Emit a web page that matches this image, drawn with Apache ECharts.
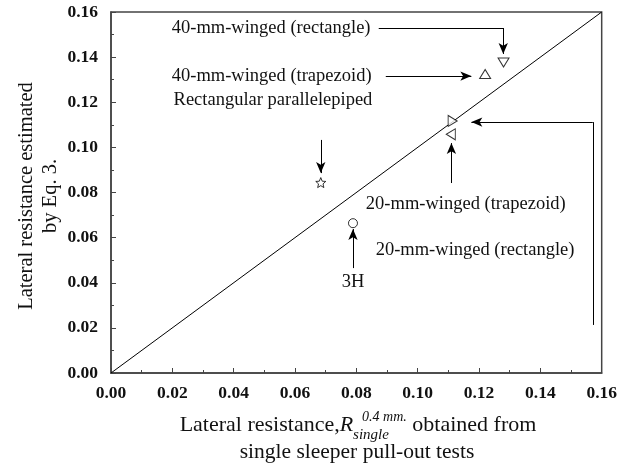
<!DOCTYPE html>
<html><head><meta charset="utf-8">
<script src="https://cdn.jsdelivr.net/npm/echarts@6/dist/echarts.min.js"></script>
<style>html,body{margin:0;padding:0;background:#fff}#c{width:620px;height:468px}</style>
</head><body><div id="c"></div>
<script>
// ---- data ----
const axisMin = 0, axisMax = 0.16, axisStep = 0.02;
const rect40 = [[0.128, 0.1376]];
const trap40 = [[0.122, 0.1325]];
const rect20 = [[0.1114, 0.1117]];
const trap20 = [[0.1108, 0.1058]];
const parallelepiped = [[0.0684, 0.0844]];
const h3 = [[0.0789, 0.0664]];
const equality = [[0, 0], [0.16, 0.16]];
// annotation labels: [text, x, y, align]
const labelTexts = [
  ['40-mm-winged (rectangle)', 0.0198, 0.1529, 'left'],
  ['40-mm-winged (trapezoid)', 0.0198, 0.1316, 'left'],
  ['Rectangular parallelepiped', 0.0204, 0.1210, 'left'],
  ['20-mm-winged (trapezoid)', 0.0831, 0.0749, 'left'],
  ['20-mm-winged (rectangle)', 0.0863, 0.0545, 'left'],
  ['3H', 0.0789, 0.0403, 'center']
];
// connector segments (no head) and arrows (head at end), in data units
const plainSegments = [
  [[0.0873, 0.1529], [0.1279, 0.1529]],
  [[0.1571, 0.0213], [0.1571, 0.1112]]
];
const arrowSegments = [
  [[0.1279, 0.1529], [0.1279, 0.1414]],
  [[0.0896, 0.1316], [0.1175, 0.1316]],
  [[0.0684, 0.1033], [0.0684, 0.0886]],
  [[0.1110, 0.0842], [0.1110, 0.1019]],
  [[0.1571, 0.1112], [0.1175, 0.1112]],
  [[0.0789, 0.0465], [0.0789, 0.0638]]
];

const FONT = 'Liberation Serif';
const chart = echarts.init(document.getElementById('c'), null, {renderer: 'canvas'});
const hollow = {color: '#fff', borderColor: '#000', borderWidth: 1};
const starPath = 'path://M12,2 L14.9,8.9 L22,9.3 L16.5,14 L18.2,21 L12,17.3 L5.8,21 L7.5,14 L2,9.3 L9.1,8.9 Z';

function axis() {
  return {
    type: 'value', min: axisMin, max: axisMax, interval: axisStep,
    axisLine: {show: true, lineStyle: {color: '#444', width: 1.5}},
    axisTick: {show: true, inside: true, length: 5, lineStyle: {color: '#444', width: 1}},
    minorTick: {show: true, splitNumber: 2, length: 3, lineStyle: {color: '#444', width: 1}},
    splitLine: {show: false},
    axisLabel: {fontFamily: FONT, fontWeight: 'bold', fontSize: 17.5, color: '#111',
      formatter: v => v.toFixed(2)}
  };
}
const xA = axis(); xA.axisLabel.margin = 11;
const yA = axis(); yA.axisLabel.margin = 13;
const mkLines = arrowSegments.map(s => [{coord: s[0]}, {coord: s[1]}]);
const plainLines = plainSegments.map(s => [{coord: s[0]}, {coord: s[1]}]);

chart.setOption({
  animation: false,
  grid: {left: 111, right: 16, top: 12, bottom: 95, show: true, borderColor: '#444', borderWidth: 1.5},
  xAxis: xA, yAxis: yA,
  series: [
    {type: 'line', data: equality, symbol: 'none', lineStyle: {color: '#000', width: 1}, z: 1,
     markLine: {silent: true, symbol: ['none', 'arrow'], symbolSize: [7, 11], label: {show: false},
       lineStyle: {color: '#000', width: 1, type: 'solid'}, data: mkLines}},
    {type: 'line', data: [], markLine: {silent: true, symbol: ['none', 'none'], label: {show: false},
       lineStyle: {color: '#000', width: 1, type: 'solid'}, data: plainLines}},
    {type: 'scatter', data: rect40, symbol: 'triangle', symbolRotate: 180, symbolSize: [11, 9], itemStyle: hollow, z: 5},
    {type: 'scatter', data: trap40, symbol: 'triangle', symbolSize: [11, 9], itemStyle: hollow, z: 5},
    {type: 'scatter', data: rect20, symbol: 'triangle', symbolRotate: -90, symbolSize: [11, 9], itemStyle: hollow, z: 5},
    {type: 'scatter', data: trap20, symbol: 'triangle', symbolRotate: 90, symbolSize: [11, 9], itemStyle: hollow, z: 5},
    {type: 'scatter', data: parallelepiped, symbol: starPath, symbolSize: 10, itemStyle: hollow, z: 5},
    {type: 'scatter', data: h3, symbol: 'circle', symbolSize: 9, itemStyle: hollow, z: 5}
  ]
});

// text measuring
const ctx = document.createElement('canvas').getContext('2d');
function w(t, font) { ctx.font = font; return ctx.measureText(t).width; }

const graphics = [];
labelTexts.forEach(([t, x, y, al]) => {
  const p = chart.convertToPixel({gridIndex: 0}, [x, y]);
  graphics.push({type: 'text', x: p[0], y: p[1], style: {text: t, font: '18.5px "' + FONT + '"', fill: '#111', align: al, verticalAlign: 'middle'}});
});
// y axis title
const fY = '20.5px "' + FONT + '"';
graphics.push({type: 'text', x: 27, y: 196, rotation: Math.PI / 2,
  style: {text: 'Lateral resistance estimated', font: fY, fill: '#111', align: 'center', verticalAlign: 'middle'}});
graphics.push({type: 'text', x: 51, y: 196, rotation: Math.PI / 2,
  style: {text: 'by Eq. 3.', font: fY, fill: '#111', align: 'center', verticalAlign: 'middle'}});
// x axis title with sub/superscript
const fN = '22px "' + FONT + '"', fI = 'italic 22px "' + FONT + '"';
const f2 = '21.5px "' + FONT + '"';
const fSub = 'italic 15px "' + FONT + '"', fSup = 'italic 14px "' + FONT + '"';
const p1 = 'Lateral resistance,', p2 = 'R', sub = 'single', sup = '0.4 mm.', p3 = ' obtained from';
const supOff = 9;
const mid = 425;
function t(text, x, y, font, align) {
  graphics.push({type: 'text', x: x, y: y, style: {text: text, font: font, fill: '#111', align: align || 'left', verticalAlign: 'middle'}});
}
const scriptW = Math.max(w(sub, fSub), supOff + w(sup, fSup));
const total = w(p1, fN) + w(p2, fI) + scriptW + w(p3, fN);
let cx = 358 - total / 2;
t(p1, cx, mid, fN); cx += w(p1, fN);
t(p2, cx, mid, fI); cx += w(p2, fI);
t(sub, cx, mid + 10, fSub);
t(sup, cx + supOff, mid - 8, fSup);
cx += scriptW;
t(p3, cx, mid, fN);
graphics.push({type: 'text', x: 357, y: 452, style: {text: 'single sleeper pull-out tests', font: f2, fill: '#111', align: 'center', verticalAlign: 'middle'}});
chart.setOption({graphic: graphics});
</script></body></html>
